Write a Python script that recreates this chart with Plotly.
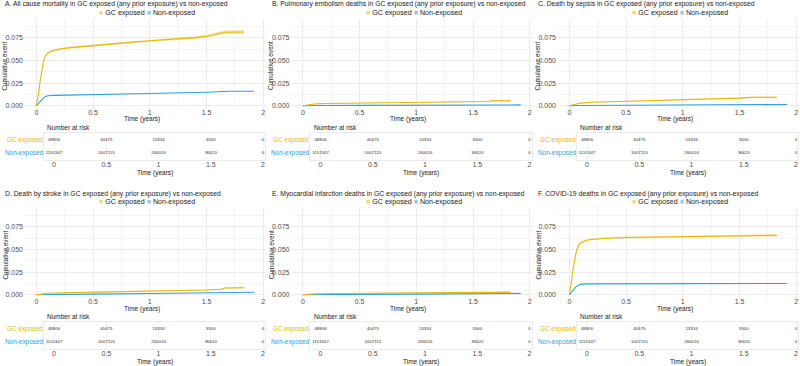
import plotly.graph_objects as go

# ---------------- data ----------------
panel_titles = [
    "A. All cause mortality in GC exposed (any prior exposure) vs non-exposed",
    "B. Pulmonary embolism deaths in GC exposed (any prior exposure) vs non-exposed",
    "C. Death by sepsis in GC exposed (any prior exposure) vs non-exposed",
    "D. Death by stroke in GC exposed (any prior exposure) vs non-exposed",
    "E. Myocardial infarction deaths in GC exposed (any prior exposure) vs non-exposed",
    "F. COVID-19 deaths in GC exposed (any prior exposure) vs non-exposed",
]
group_names = ["GC exposed", "Non-exposed"]

# A. all cause mortality
a_gc_time = [0, 0.01, 0.02, 0.03, 0.04, 0.05, 0.06, 0.07, 0.08, 0.1, 0.13, 0.17, 0.22, 0.3, 0.5, 0.75, 1.0, 1.25, 1.4, 1.5, 1.55, 1.62, 1.66, 1.83]
a_gc_cum = [0, 0.006, 0.014, 0.024, 0.033, 0.041, 0.047, 0.052, 0.055, 0.058, 0.060, 0.0615, 0.0628, 0.064, 0.0665, 0.069, 0.0715, 0.0735, 0.075, 0.0765, 0.078, 0.0795, 0.081, 0.0812]
a_gc_ci = [0, 0.0004, 0.0005, 0.0006, 0.0007, 0.0008, 0.0008, 0.0009, 0.0009, 0.0009, 0.001, 0.001, 0.001, 0.001, 0.0011, 0.0012, 0.0013, 0.0014, 0.0015, 0.0016, 0.0017, 0.002, 0.0022, 0.0023]
a_non_time = [0, 0.02, 0.04, 0.06, 0.08, 0.1, 0.15, 0.3, 0.5, 1.0, 1.5, 1.7, 1.92]
a_non_cum = [0, 0.003, 0.006, 0.0085, 0.010, 0.011, 0.0115, 0.012, 0.0125, 0.0135, 0.015, 0.016, 0.016]

# B. pulmonary embolism
b_gc_time = [0, 0.05, 0.1, 0.2, 0.5, 1.0, 1.3, 1.5, 1.64, 1.66, 1.83]
b_gc_cum = [0, 0.0012, 0.002, 0.0025, 0.003, 0.0035, 0.004, 0.0045, 0.0047, 0.0056, 0.0056]
b_gc_ci = [0, 0.0002, 0.0003, 0.0003, 0.0003, 0.0004, 0.0004, 0.0005, 0.0005, 0.0008, 0.0008]
b_non_time = [0, 0.1, 0.5, 1.0, 1.5, 1.92]
b_non_cum = [0, 0.0003, 0.0005, 0.0007, 0.0009, 0.001]

# C. sepsis
c_gc_time = [0, 0.05, 0.1, 0.2, 0.5, 0.75, 1.0, 1.25, 1.5, 1.6, 1.83]
c_gc_cum = [0, 0.0018, 0.003, 0.004, 0.005, 0.0056, 0.0062, 0.0073, 0.0085, 0.0093, 0.0095]
c_gc_ci = [0, 0.0002, 0.0003, 0.0003, 0.0004, 0.0004, 0.0004, 0.0005, 0.0006, 0.0007, 0.0008]
c_non_time = [0, 0.1, 0.5, 1.0, 1.5, 1.92]
c_non_cum = [0, 0.0003, 0.0006, 0.0009, 0.0012, 0.0015]

# D. stroke
d_gc_time = [0, 0.05, 0.1, 0.3, 0.5, 1.0, 1.25, 1.5, 1.63, 1.66, 1.83]
d_gc_cum = [0, 0.0012, 0.0018, 0.0024, 0.0028, 0.0038, 0.0045, 0.0053, 0.0062, 0.0075, 0.0077]
d_gc_ci = [0, 0.0002, 0.0002, 0.0003, 0.0003, 0.0004, 0.0004, 0.0005, 0.0006, 0.0009, 0.0009]
d_non_time = [0, 0.1, 0.5, 1.0, 1.5, 1.92]
d_non_cum = [0, 0.0003, 0.0008, 0.0014, 0.0022, 0.0028]

# E. myocardial infarction
e_gc_time = [0, 0.05, 0.1, 0.3, 0.5, 1.0, 1.5, 1.83]
e_gc_cum = [0, 0.0007, 0.0011, 0.0015, 0.0017, 0.0021, 0.0027, 0.003]
e_gc_ci = [0, 0.0001, 0.0002, 0.0002, 0.0002, 0.0003, 0.0004, 0.0005]
e_non_time = [0, 0.1, 0.5, 1.0, 1.5, 1.92]
e_non_cum = [0, 0.0002, 0.0005, 0.0008, 0.0012, 0.0016]

# F. COVID-19
f_gc_time = [0, 0.01, 0.02, 0.03, 0.04, 0.05, 0.06, 0.07, 0.08, 0.1, 0.13, 0.17, 0.22, 0.3, 0.5, 0.75, 1.0, 1.25, 1.5, 1.83]
f_gc_cum = [0, 0.007, 0.016, 0.026, 0.034, 0.041, 0.047, 0.051, 0.054, 0.057, 0.059, 0.0605, 0.0612, 0.062, 0.063, 0.0635, 0.064, 0.0645, 0.065, 0.0655]
f_gc_ci = [0, 0.0004, 0.0005, 0.0006, 0.0007, 0.0008, 0.0008, 0.0009, 0.0009, 0.0009, 0.001, 0.001, 0.001, 0.001, 0.0011, 0.0011, 0.0012, 0.0012, 0.0013, 0.0014]
f_non_time = [0, 0.02, 0.04, 0.06, 0.08, 0.1, 0.15, 0.3, 1.0, 1.92]
f_non_cum = [0, 0.003, 0.0065, 0.009, 0.0105, 0.0115, 0.012, 0.0122, 0.0123, 0.0125]

# numbers at risk (same for all panels)
risk_times = [0, 0.5, 1, 1.5, 2]
gc_at_risk = [48806, 40475, 13334, 3500, 0]
non_at_risk = [1151347, 1007115, 260016, 36620, 0]

x_tickvals = [0, 0.5, 1, 1.5, 2]
x_ticktext = ["0", "0.5", "1", "1.5", "2"]
y_tickvals = [0, 0.025, 0.05, 0.075]
y_ticktext = ["0.000", "0.025", "0.050", "0.075"]

panels = [
    (a_gc_time, a_gc_cum, a_gc_ci, a_non_time, a_non_cum),
    (b_gc_time, b_gc_cum, b_gc_ci, b_non_time, b_non_cum),
    (c_gc_time, c_gc_cum, c_gc_ci, c_non_time, c_non_cum),
    (d_gc_time, d_gc_cum, d_gc_ci, d_non_time, d_non_cum),
    (e_gc_time, e_gc_cum, e_gc_ci, e_non_time, e_non_cum),
    (f_gc_time, f_gc_cum, f_gc_ci, f_non_time, f_non_cum),
]

# ---------------- styling / layout ----------------
W, H = 800, 366
GOLD = "#E7B800"
BLUE = "#2E9FDF"
GOLD_FILL = "rgba(231,184,0,0.3)"
FONT = "Liberation Sans, Arial, sans-serif"
GRID = "#EBEBEB"
GRID_MINOR = "#F4F4F4"


def fx(px):
    return max(0.0, min(1.0, px / W))


def fy(py):
    return max(0.0, min(1.0, 1 - py / H))


fig = go.Figure()
layout = {}
annotations = []

for i, (gt, gc, gci, nt, nc) in enumerate(panels):
    col, row = i % 3, i // 3
    ox, oy = col * 266.5, row * 189
    pa, ta = 2 * i + 1, 2 * i + 2
    xa_p, ya_p = f"x{pa}", f"y{pa}"
    xa_t, ya_t = f"x{ta}", f"y{ta}"

    upper = [v + c for v, c in zip(gc, gci)]
    lower = [max(0, v - c) for v, c in zip(gc, gci)]
    fig.add_trace(go.Scatter(x=gt, y=upper, mode="lines", line=dict(width=0, color=GOLD),
                             showlegend=False, hoverinfo="skip", xaxis=xa_p, yaxis=ya_p))
    fig.add_trace(go.Scatter(x=gt, y=lower, mode="lines", line=dict(width=0, color=GOLD),
                             fill="tonexty", fillcolor=GOLD_FILL,
                             showlegend=False, hoverinfo="skip", xaxis=xa_p, yaxis=ya_p))
    fig.add_trace(go.Scatter(x=nt, y=nc, mode="lines", line=dict(width=1.1, color=BLUE),
                             name=group_names[1], showlegend=False, xaxis=xa_p, yaxis=ya_p))
    fig.add_trace(go.Scatter(x=gt, y=gc, mode="lines", line=dict(width=1.1, color=GOLD),
                             name=group_names[0], showlegend=False, xaxis=xa_p, yaxis=ya_p))

    # risk table
    fig.add_trace(go.Scatter(x=risk_times, y=[2] * len(risk_times), mode="text",
                             text=[str(v) for v in gc_at_risk],
                             textfont=dict(size=4.4, color="#333333", family=FONT),
                             cliponaxis=True, showlegend=False, hoverinfo="skip",
                             xaxis=xa_t, yaxis=ya_t))
    fig.add_trace(go.Scatter(x=risk_times, y=[1] * len(risk_times), mode="text",
                             text=[str(v) for v in non_at_risk],
                             textfont=dict(size=4.4, color="#333333", family=FONT),
                             cliponaxis=True, showlegend=False, hoverinfo="skip",
                             xaxis=xa_t, yaxis=ya_t))

    sfx_p = "" if pa == 1 else str(pa)
    sfx_t = str(ta)
    tickfont = dict(size=7, color="#4D4D4D", family=FONT)
    layout["xaxis" + sfx_p] = dict(
        domain=[fx(ox + 25), fx(ox + 266)], range=[-0.1, 2.024], anchor=ya_p,
        tickvals=x_tickvals, ticktext=x_ticktext, tickfont=tickfont, ticks="",
        ticklabelstandoff=-3,
        showgrid=True, gridcolor=GRID, gridwidth=0.7, zeroline=False, showline=False,
        minor=dict(dtick=0.25, tick0=0, showgrid=True, gridcolor=GRID_MINOR, gridwidth=0.5),
        fixedrange=True)
    layout["yaxis" + sfx_p] = dict(
        domain=[fy(oy + 110), fy(oy + 19)], range=[-0.0046, 0.0955], anchor=xa_p,
        tickvals=y_tickvals, ticktext=y_ticktext, tickfont=tickfont, ticks="",
        ticklabelstandoff=1,
        showgrid=True, gridcolor=GRID, gridwidth=0.7, zeroline=False, showline=False,
        minor=dict(dtick=0.0125, tick0=0, showgrid=True, gridcolor=GRID_MINOR, gridwidth=0.5),
        fixedrange=True)
    layout["xaxis" + sfx_t] = dict(
        domain=[fx(ox + 43.6), fx(ox + 265.1)], range=[-0.1, 2.02], anchor=ya_t,
        tickvals=x_tickvals, ticktext=x_ticktext, tickfont=tickfont, ticks="",
        ticklabelstandoff=-2,
        showgrid=True, gridcolor=GRID_MINOR, gridwidth=0.5, zeroline=False,
        showline=True, mirror=True, linecolor=GRID, linewidth=0.7, fixedrange=True)
    layout["yaxis" + sfx_t] = dict(
        domain=[fy(oy + 160), fy(oy + 133)], range=[0.5, 2.5], anchor=xa_t,
        showticklabels=False, showgrid=False, zeroline=False,
        showline=True, mirror=True, linecolor=GRID, linewidth=0.7, fixedrange=True)

    # texts
    annotations += [
        dict(text=panel_titles[i], x=fx(ox + 3), y=fy(oy + 4.5), xanchor="left", yanchor="middle",
             font=dict(size=6.8, color="#1A1A1A", family=FONT)),
        dict(text=f"<span style='color:rgba(231,184,0,0.55)'>■</span> {group_names[0]} "
                  f"<span style='color:rgba(46,159,223,0.55)'>■</span> {group_names[1]}",
             x=fx(ox + 147), y=fy(oy + 12.8), xanchor="center", yanchor="middle",
             font=dict(size=7.1, color="#1A1A1A", family=FONT)),
        dict(text="Cumulative event", x=fx(ox + 4.5), y=fy(oy + 66), textangle=-90,
             xanchor="center", yanchor="middle", font=dict(size=6.3, color="#1A1A1A", family=FONT)),
        dict(text="Time (years)", x=fx(ox + 141.5), y=fy(oy + 119.5), xanchor="center", yanchor="middle",
             font=dict(size=6.5, color="#1A1A1A", family=FONT)),
        dict(text="Number at risk", x=fx(ox + 45), y=fy(oy + 127.5), xanchor="left", yanchor="middle",
             font=dict(size=6.5, color="#1A1A1A", family=FONT)),
        dict(text=group_names[0], x=fx(ox + 44.5), y=fy(oy + 140), xanchor="right", yanchor="middle",
             font=dict(size=6.4, color=GOLD, family=FONT)),
        dict(text=group_names[1], x=fx(ox + 44.5), y=fy(oy + 153), xanchor="right", yanchor="middle",
             font=dict(size=6.4, color=BLUE, family=FONT)),
        dict(text="Time (years)", x=fx(ox + 154.5), y=fy(oy + 172.5), xanchor="center", yanchor="middle",
             font=dict(size=6.5, color="#1A1A1A", family=FONT)),
    ]

for a in annotations:
    a.update(xref="paper", yref="paper", showarrow=False)

fig.update_layout(
    width=W, height=H, margin=dict(l=0, r=0, t=0, b=0),
    paper_bgcolor="white", plot_bgcolor="white",
    showlegend=False, annotations=annotations,
    font=dict(family=FONT),
    **layout,
)

fig.write_html("out.html", config={"displayModeBar": False},
               post_script="document.body.style.margin='0px';")
